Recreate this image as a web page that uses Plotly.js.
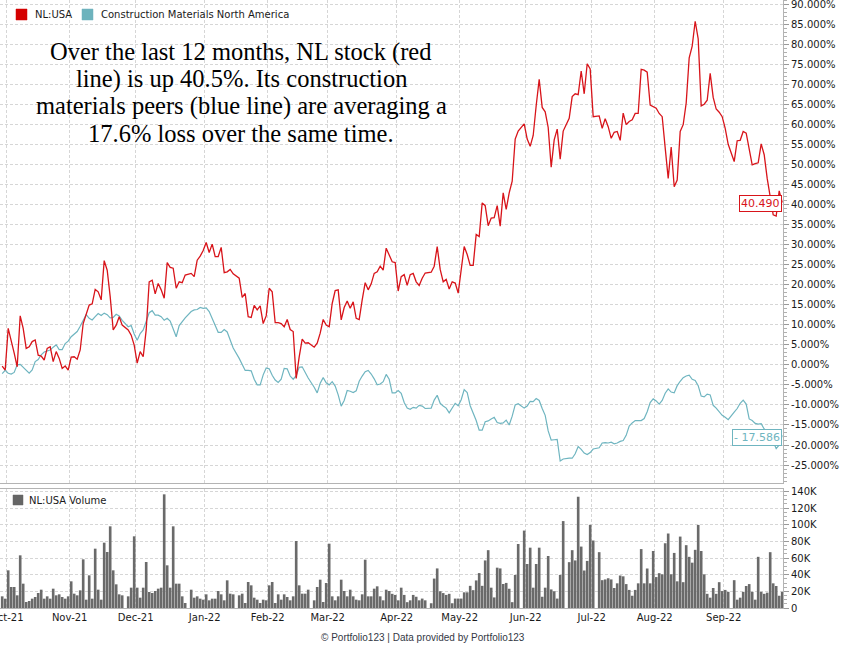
<!DOCTYPE html>
<html>
<head>
<meta charset="utf-8">
<script src="https://cdn.plot.ly/plotly-3.0.1.min.js"></script>
<style>html,body{margin:0;padding:0;background:#fff;}</style>
</head>
<body>
<div id="chart" style="width:845px;height:650px;"></div>
<script>
// Exchange holidays that fall inside the charted window (no trading, empty slot on the axis)
const marketHolidays = ['2021-11-25', '2021-12-24', '2022-01-17', '2022-02-21', '2022-04-15',
  '2022-05-30', '2022-06-20', '2022-07-04', '2022-09-05'];
const firstSession = '2021-09-29';
const lastSession = '2022-09-28';

// NL:USA cumulative return, % (one value per trading session)
const nlReturn = [
  -0.3, -1.3,
  // Oct 2021
  9.1, 6.2, 2.9, -0.5, 12.2, 9.1, 4.1, 4.5, 5.8, 6.2, 2.4, 2.2, 1.2, 4.1, 4.5, 0.8, 3.3, 1.6, -0.9, -0.3, -1.3,
  // Nov 2021
  1.9, 2.0, 1.4, 3.7, 10.3, 12.8, 14.9, 15.2, 18.8, 18.2, 16.2, 26.0, 23.6, 17.0, 8.7, 9.9, 12.0, 9.9, 8.7, 7.4, 4.9,
  // Dec 2021
  0.4, 3.3, 2.0, 8.7, 20.7, 21.1, 17.7, 20.3, 18.7, 16.6, 25.5, 24.3, 24.1, 19.1, 20.7, 20.5, 22.4, 22.8, 22.0, 26.1, 27.1, 28.5,
  // Jan 2022
  30.5, 28.0, 30.1, 27.0, 27.0, 29.3, 23.0, 23.2, 23.8, 22.7, 21.6, 16.8, 17.8, 12.0, 11.8, 14.8, 13.7, 14.7, 10.3, 12.2,
  // Feb 2022
  19.1, 18.2, 10.5, 10.5, 10.3, 9.5, 11.3, 8.8, 8.3, -3.4, 2.0, 6.4, 5.4, 5.5, 4.4, 5.4, 7.9, 11.3, 9.9,
  // Mar 2022
  9.5, 15.3, 18.5, 18.7, 11.2, 14.3, 15.9, 14.1, 15.7, 11.6, 11.3, 16.2, 20.5, 18.7, 20.2, 22.8, 23.2, 24.6, 23.6, 29.1, 27.4, 25.7, 25.5,
  // Apr 2022
  18.4, 22.0, 22.5, 19.8, 22.5, 22.8, 20.7, 19.8, 21.6, 22.9, 23.1, 24.6, 29.5, 23.8, 20.7, 21.3, 18.9, 20.7, 20.4, 17.9,
  // May 2022
  23.8, 29.5, 27.5, 24.8, 24.8, 32.5, 32.0, 40.4, 39.7, 34.7, 36.6, 36.7, 39.7, 34.6, 42.9, 38.8, 42.9, 45.8, 56.3, 58.3, 60.1,
  // Jun 2022
  56.3, 54.5, 57.2, 64.7, 71.2, 64.2, 63.1, 59.2, 49.3, 56.1, 58.8, 51.3, 58.3, 61.5, 66.9, 67.6, 67.4, 73.3, 67.6, 75.1, 73.8,
  // Jul 2022
  61.9, 62.1, 59.0, 61.4, 59.4, 56.5, 58.0, 58.2, 56.0, 62.8, 59.9, 60.7, 61.1, 62.7, 62.7, 73.7, 73.5, 73.0, 64.8, 64.3,
  // Aug 2022
  64.0, 62.7, 61.9, 54.1, 46.5, 54.3, 44.4, 46.1, 58.2, 59.9, 65.3, 76.6, 79.5, 85.7, 81.3, 64.6, 65.0, 66.0, 72.7, 66.7, 63.8, 63.0, 61.9,
  // Sep 2022
  59.0, 55.0, 50.7, 55.9, 56.0, 58.2, 57.8, 54.1, 49.9, 50.2, 50.4, 55.1, 52.4, 46.5, 41.5, 37.4, 37.1, 43.4, 40.49
];

// Construction Materials North America peer average, cumulative return %
const peersReturn = [
  -2.2, -1.4,
  // Oct 2021
  -2.1, -2.3, -1.9, 0.0, 0.1, -0.7, -1.5, -2.1, -1.3, 0.8, 1.3, 2.5, 3.2, 3.5, 3.7, 4.4, 5.0, 3.8, 3.8, 5.3, 5.9,
  // Nov 2021
  7.0, 7.6, 8.3, 9.6, 11.2, 12.5, 11.6, 11.2, 12.0, 12.8, 12.3, 12.9, 12.5, 11.7, 11.8, 12.6, 12.2, 11.1, 9.5, 9.8, 7.7,
  // Dec 2021
  6.1, 7.8, 8.7, 10.8, 13.0, 13.5, 12.4, 12.4, 12.0, 11.1, 11.6, 10.9, 9.0, 7.0, 9.8, 10.8, 11.7, 13.3, 13.7, 13.8, 14.3, 14.1,
  // Jan 2022
  14.2, 13.3, 11.6, 10.2, 8.1, 8.1, 8.8, 8.2, 6.2, 4.2, 1.6, 0.0, -1.4, -1.4, -1.5, -3.6, -5.0, -5.0, -2.5, -0.8,
  // Feb 2022
  -1.0, -2.6, -3.8, -4.4, -3.6, -0.9, -1.0, -2.8, -3.6, -2.7, -0.6, -0.5, -2.0, -3.3, -5.6, -7.0, -4.6, -3.2, -4.5,
  // Mar 2022
  -5.0, -4.2, -5.3, -7.5, -10.3, -8.9, -6.4, -6.6, -6.9, -6.5, -4.1, -2.8, -1.7, -1.4, -2.3, -3.5, -5.0, -4.8, -4.2, -2.4, -3.6, -7.0, -7.0,
  // Apr 2022
  -6.4, -7.1, -9.4, -10.8, -11.1, -10.6, -10.8, -10.1, -10.3, -10.9, -10.8, -8.8, -7.6, -9.6, -10.3, -10.8, -12.0, -10.8, -9.6, -10.2,
  // May 2022
  -8.7, -6.2, -6.9, -10.2, -11.9, -13.9, -16.3, -16.3, -14.2, -14.0, -13.5, -13.1, -14.4, -14.6, -14.5, -13.8, -15.0, -12.8, -10.0, -9.7, -10.8,
  // Jun 2022
  -10.3, -9.1, -9.2, -8.4, -8.9, -10.9, -12.6, -16.5, -18.8, -18.7, -18.6, -24.0, -23.5, -23.3, -23.3, -22.2, -20.4, -21.1, -22.0, -22.4, -21.9,
  // Jul 2022
  -21.0, -20.7, -19.5, -19.4, -19.5, -19.3, -19.7, -19.5, -19.1, -18.9, -17.6, -15.3, -14.5, -13.9, -13.9, -13.9, -13.4, -11.7, -9.4, -8.5,
  // Aug 2022
  -9.0, -9.8, -8.9, -7.1, -6.0, -6.8, -7.0, -5.2, -4.1, -3.2, -2.8, -2.6, -3.6, -3.9, -5.2, -7.8, -8.0, -7.3, -7.5, -10.1, -10.8, -11.6, -12.6,
  // Sep 2022
  -13.1, -13.7, -11.8, -10.9, -9.6, -8.8, -9.8, -13.5, -13.9, -14.6, -14.8, -14.7, -16.0, -17.1, -18.0, -19.2, -20.9, -20.0, -17.586
];

// NL:USA daily share volume, thousands
const nlVolumeK = [
  14.0, 11.2,
  // Oct 2021
  45.2, 25.2, 25.2, 15.2, 63.2, 29.2, 7.2, 8.4, 11.2, 13.2, 18.0, 22.0, 11.2, 14.0, 11.2, 23.2, 15.2, 16.4, 13.2, 11.2, 14.0,
  // Nov 2021
  32.0, 17.2, 15.2, 21.2, 58.4, 10.0, 39.2, 11.2, 71.2, 22.0, 10.0, 78.4, 67.2, 98.0, 45.2, 28.4, 16.4, 15.2, 14.0, 24.4, 86.0,
  // Dec 2021
  24.4, 12.4, 24.4, 55.2, 19.2, 18.0, 20.4, 23.2, 24.4, 136.4, 51.2, 24.4, 98.0, 29.2, 29.2, 14.0, 6.0, 22.0, 12.4, 14.0, 11.2, 10.0,
  // Jan 2022
  16.4, 9.2, 11.2, 11.2, 20.4, 16.4, 9.2, 33.2, 17.2, 16.4, 15.2, 17.2, 6.0, 31.2, 27.2, 12.4, 10.0, 6.0, 10.0, 9.2,
  // Feb 2022
  27.2, 31.2, 6.0, 16.4, 10.0, 16.4, 13.2, 9.2, 14.0, 80.4, 27.2, 17.2, 17.2, 22.0, 9.2, 25.2, 34.0, 7.2, 30.0,
  // Mar 2022
  77.2, 14.0, 9.2, 14.0, 34.0, 20.4, 14.0, 22.0, 14.0, 10.0, 9.2, 16.4, 58.0, 14.0, 14.0, 23.2, 26.0, 14.0, 9.2, 22.0, 20.4, 17.0, 15.7,
  // Apr 2022
  9.2, 24.4, 15.7, 7.0, 9.2, 15.7, 13.5, 9.2, 11.3, 9.2, 5.7, 35.3, 47.5, 20.1, 17.9, 15.7, 17.0, 5.7, 11.3, 11.3,
  // May 2022
  11.3, 18.8, 18.8, 26.6, 21.4, 33.1, 41.9, 26.6, 57.1, 69.4, 24.4, 12.7, 48.4, 47.5, 28.8, 30.1, 23.1, 7.0, 39.7, 76.8, 92.9,
  // Jun 2022
  52.8, 72.4, 24.4, 52.8, 72.4, 13.5, 24.4, 62.4, 22.3, 20.1, 11.3, 39.7, 104.3, 55.0, 69.4, 57.1, 133.5, 73.7, 45.0, 56.5, 99.8,
  // Jul 2022
  81.0, 67.0, 33.4, 34.3, 35.7, 34.3, 24.0, 29.6, 39.0, 38.0, 28.7, 21.7, 14.7, 21.7, 29.6, 70.7, 29.6, 47.4, 29.6, 68.4,
  // Aug 2022
  37.1, 41.8, 40.4, 77.7, 89.4, 40.4, 66.1, 32.0, 85.7, 31.0, 75.4, 61.4, 54.4, 69.8, 99.7, 68.4, 40.4, 17.0, 12.4, 24.0, 17.0, 31.0, 20.3,
  // Sep 2022
  21.7, 19.4, 33.4, 10.0, 12.4, 19.4, 26.4, 28.7, 19.4, 10.0, 61.4, 19.4, 17.0, 18.4, 67.0, 29.6, 26.4, 14.7, 19.4
];

// Month ticks sit on the first session of each month
const monthTickDates = ['2021-10-01', '2021-11-01', '2021-12-01', '2022-01-03', '2022-02-01', '2022-03-01',
  '2022-04-01', '2022-05-02', '2022-06-01', '2022-07-01', '2022-08-01', '2022-09-01'];
const monthTickLabels = ['Oct-21', 'Nov-21', 'Dec-21', 'Jan-22', 'Feb-22', 'Mar-22',
  'Apr-22', 'May-22', 'Jun-22', 'Jul-22', 'Aug-22', 'Sep-22'];
const pctTickValues = [-25, -20, -15, -10, -5, 0, 5, 10, 15, 20, 25, 30, 35, 40, 45, 50, 55, 60, 65, 70, 75, 80, 85, 90];
const volTickValues = [0, 20, 40, 60, 80, 100, 120, 140];
const volTickLabels = ['0', '20K', '40K', '60K', '80K', '100K', '120K', '140K'];

// Weekday sessions between two dates, skipping exchange holidays (stamped at mid-session)
function sessionDates(start, end, holidays) {
  const out = [];
  const d = new Date(start + 'T00:00:00Z');
  const stop = new Date(end + 'T00:00:00Z');
  while (d <= stop) {
    const dow = d.getUTCDay();
    const iso = d.toISOString().slice(0, 10);
    if (dow !== 0 && dow !== 6 && holidays.indexOf(iso) < 0) out.push(iso + ' 12:00');
    d.setUTCDate(d.getUTCDate() + 1);
  }
  return out;
}
const sessions = sessionDates(firstSession, lastSession, marketHolidays);

const RED = '#d8141a';
const TEAL = '#6fb5c0';
const BAR = '#6a6a6a';
const GRID = '#d6d6d6';
const FRAME = '#b4b4b4';
const tickFont = {family: 'DejaVu Sans, sans-serif', size: 10, color: '#1a1a1a'};

// Plot area is 783 x 608 px; helpers convert pixel offsets to paper units
const PW = 783, PH = 608;
const px = v => v / PW;
const py = v => (PH - v) / PH;

const traces = [
  {type: 'scatter', mode: 'lines', x: sessions, y: peersReturn, xaxis: 'x', yaxis: 'y',
   line: {color: TEAL, width: 1.2}, hoverinfo: 'skip', showlegend: false},
  {type: 'scatter', mode: 'lines', x: sessions, y: nlReturn, xaxis: 'x', yaxis: 'y',
   line: {color: RED, width: 1.3}, hoverinfo: 'skip', showlegend: false},
  {type: 'bar', x: sessions, y: nlVolumeK, xaxis: 'x', yaxis: 'y2',
   marker: {color: BAR, line: {width: 0}}, hoverinfo: 'skip', showlegend: false}
];

const swatch = (x0, y0, x1, y1, color) => ({
  type: 'rect', xref: 'paper', yref: 'paper', x0: px(x0), x1: px(x1), y0: py(y1), y1: py(y0),
  fillcolor: color, line: {color: color, width: 0.5}, layer: 'above'
});
const note = (text, x, y, opts) => Object.assign({
  text: text, xref: 'paper', yref: 'paper', x: px(x), y: py(y), showarrow: false,
  xanchor: 'left', yanchor: 'middle', font: {family: 'DejaVu Sans, sans-serif', size: 10, color: '#1a1a1a'}
}, opts || {});

const serif = {family: 'Liberation Serif, Times New Roman, serif', size: 24.5, color: '#000'};
const headline = [
  'Over the last 12 months, NL stock (red',
  'line) is up 40.5%. Its construction',
  'materials peers (blue line) are averaging a',
  '17.6% loss over the same time.'
];
const headlineY = [52, 79, 106, 133];

const lastNl = nlReturn[nlReturn.length - 1];
const lastPeers = peersReturn[peersReturn.length - 1];

const annotations = [
  note('NL:USA', 33, 14.5),
  note('Construction Materials North America', 99, 14.5),
  note('NL:USA Volume', 27, 500),
  {text: lastNl.toFixed(3), xref: 'paper', yref: 'y', x: 1, y: lastNl, xanchor: 'right', yanchor: 'middle',
   xshift: -1, yshift: -1.5, showarrow: false, bgcolor: '#fff', bordercolor: RED, borderwidth: 1, borderpad: 1,
   font: {family: 'DejaVu Sans, sans-serif', size: 11, color: RED}},
  {text: (lastPeers < 0 ? '- ' : '') + Math.abs(lastPeers).toFixed(3), xref: 'paper', yref: 'y', x: 1, y: lastPeers,
   xanchor: 'right', yanchor: 'middle', xshift: -1, yshift: -1.7, showarrow: false, bgcolor: '#fff',
   bordercolor: TEAL, borderwidth: 1, borderpad: 1,
   font: {family: 'DejaVu Sans, sans-serif', size: 11, color: TEAL}},
  {text: '\u00a9 Portfolio123 | Data provided by Portfolio123', xref: 'paper', yref: 'paper',
   x: px(423), y: py(637), xanchor: 'center', yanchor: 'middle', showarrow: false,
   font: {family: 'Liberation Sans, Arial, sans-serif', size: 10, color: '#333845'}}
].concat(headline.map((t, i) => ({
  text: t, xref: 'paper', yref: 'paper', x: px(241), y: py(headlineY[i]), xanchor: 'center', yanchor: 'middle',
  showarrow: false, font: serif
})));

const shapes = [
  swatch(16, 9, 27, 20, '#d40000'),
  swatch(82, 9, 93, 20, '#6db3bd'),
  swatch(13, 495, 23, 505, '#666666')
];

const commonY = {
  side: 'right', showgrid: true, gridcolor: GRID, griddash: '3px,2px', gridwidth: 1,
  zeroline: false, showline: true, mirror: true, linecolor: FRAME, linewidth: 1,
  ticks: 'outside', ticklen: 5, tickcolor: '#9a9a9a', tickwidth: 1, tickfont: tickFont,
  tickmode: 'array', ticklabeloverflow: 'allow', fixedrange: true
};

const layout = {
  width: 845, height: 650,
  margin: {l: 0, r: 62, t: 0, b: 42, pad: 0},
  paper_bgcolor: '#fff', plot_bgcolor: '#fff',
  showlegend: false, bargap: 0.12,
  xaxis: {
    type: 'date', anchor: 'y2', domain: [0, 1],
    range: ['2021-09-28 18:30', '2022-09-28 18:30'],
    rangebreaks: [{bounds: ['sat', 'mon']}],
    tickmode: 'array', tickvals: monthTickDates, ticktext: monthTickLabels,
    ticks: '', tickfont: tickFont, ticklabeloverflow: 'allow',
    showgrid: true, gridcolor: GRID, griddash: '3px,2px', gridwidth: 1,
    showline: true, mirror: 'all', linecolor: FRAME, linewidth: 1,
    zeroline: false, fixedrange: true
  },
  yaxis: Object.assign({}, commonY, {
    domain: [py(483), 1], anchor: 'x', range: [-29.48, 91.0],
    tickvals: pctTickValues, ticktext: pctTickValues.map(v => v.toFixed(3) + '%'),
    minor: {tickmode: 'linear', tick0: 0, dtick: 1, ticks: 'outside', ticklen: 3, tickcolor: '#b0b0b0', showgrid: false}
  }),
  yaxis2: Object.assign({}, commonY, {
    domain: [0, py(489)], anchor: 'x', range: [0, 142.8],
    tickvals: volTickValues, ticktext: volTickLabels,
    minor: {tickmode: 'linear', tick0: 0, dtick: 5, ticks: 'outside', ticklen: 3, tickcolor: '#b0b0b0', showgrid: false}
  }),
  shapes: shapes,
  annotations: annotations
};

Plotly.newPlot('chart', traces, layout, {staticPlot: true, displayModeBar: false});
</script>
</body>
</html>
